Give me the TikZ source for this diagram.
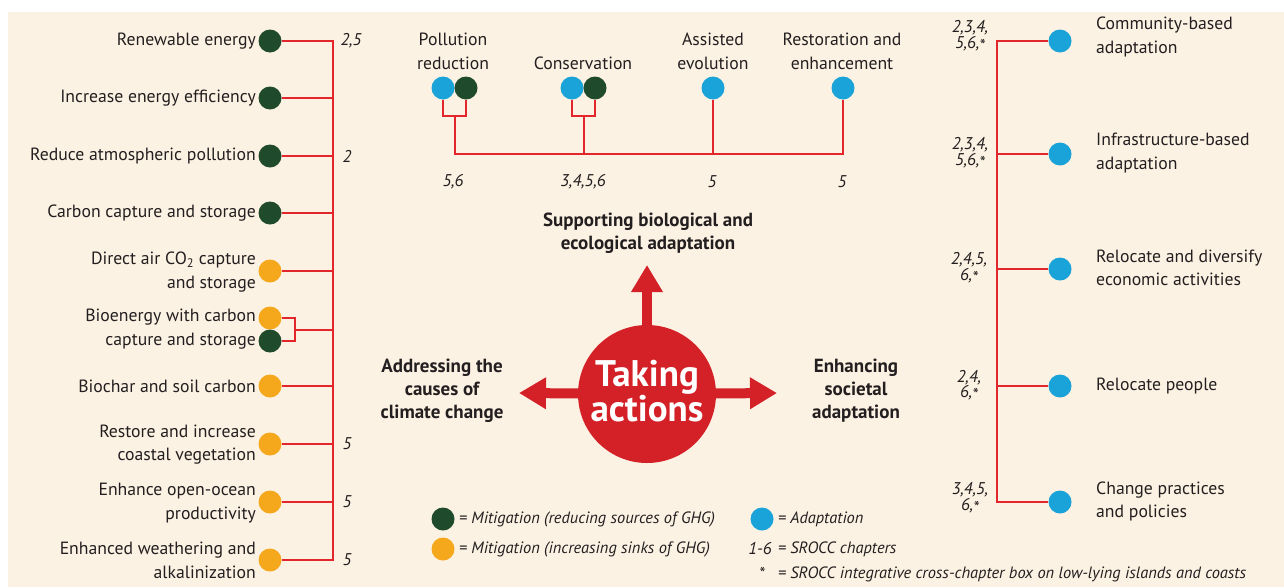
\documentclass[tikz,border=0pt]{standalone}
\usepackage{fontspec}
\setmainfont{PT Sans}
\usetikzlibrary{arrows.meta,backgrounds}
\definecolor{cream}{HTML}{FCF2E3}
\definecolor{dgreen}{HTML}{1F4A2C}
\definecolor{orng}{HTML}{F6A81D}
\definecolor{cyanb}{HTML}{1AA3D8}
\definecolor{lred}{HTML}{E3262B}
\definecolor{bigred}{HTML}{D42128}
\definecolor{ink}{HTML}{231F20}
\newcommand\lowstar{\raisebox{-0.35ex}{*}}
\tikzset{
  dot/.style={circle, minimum size=23pt, inner sep=0pt},
  gdot/.style={dot, fill=dgreen},
  odot/.style={dot, fill=orng},
  bdot/.style={dot, fill=cyanb},
  conn/.style={draw=lred, line width=2pt},
  lab/.style={font=\fontsize{17.7}{23.5}\selectfont, text=ink, inner sep=0pt},
  llab/.style={lab, anchor=east, align=right},
  rlab/.style={lab, anchor=west, align=left},
  clab/.style={lab, align=center},
  blab/.style={font=\fontsize{19}{23}\selectfont\bfseries, text=ink, inner sep=0pt, align=center},
  num/.style={font=\fontsize{17}{15.5}\selectfont\itshape, text=ink, inner sep=0pt, align=center},
  leg/.style={font=\fontsize{16.4}{18}\selectfont\itshape, text=ink, inner sep=0pt, anchor=west},
  bigarrow/.style={draw=bigred, line width=10pt, -{Triangle[width=30pt,length=27pt]}},
}
\begin{document}
\begin{tikzpicture}[x=1pt,y=-1pt]
\useasboundingbox (0,0) rectangle (1284,587);
\begin{scope}[on background layer]
  \fill[white] (0,0) rectangle (1284,587);
  \fill[cream] (8,12) rectangle (1284,587);
\end{scope}

% ---------- left column ----------
\node[gdot] (l1) at (270,41) {};
\node[gdot] (l2) at (270,98) {};
\node[gdot] (l3) at (270,156) {};
\node[gdot] (l4) at (270,213) {};
\node[odot] (l5) at (270,271) {};
\node[odot] (l6a) at (270,318) {};
\node[gdot] (l6b) at (270,341) {};
\node[odot] (l7) at (270,386) {};
\node[odot] (l8) at (270,444) {};
\node[odot] (l9) at (270,502) {};
\node[odot] (l10) at (270,560) {};

\node[llab] (tl1) at (256,41) {Renewable energy};
\node[llab] (tl2) at (256,98) {Increase energy efficiency};
\node[llab] (tl3) at (256,156) {Reduce atmospheric pollution};
\node[llab] (tl4) at (256,213) {Carbon capture and storage};
\node[llab] (tl5) at (256,272) {Direct air CO\textsubscript{2} capture\\and storage};
\node[llab] (tl6) at (256,329) {Bioenergy with carbon\\capture and storage};
\node[llab] (tl7) at (256,386) {Biochar and soil carbon};
\node[llab] (tl8) at (256,444.5) {Restore and increase\\coastal vegetation};
\node[llab] (tl9) at (256,503) {Enhance open-ocean\\productivity};
\node[llab] (tl10) at (256,560.5) {Enhanced weathering and\\alkalinization};

\coordinate (sp) at (333,41);
\coordinate (bk) at (295,329.5);
\draw[conn] (l1) -- (l1 -| sp) -- (l10 -| sp) -- (l10);
\foreach \n in {l2,l3,l4,l5,l7,l8,l9} \draw[conn] (\n) -- (\n -| sp);
\draw[conn] (l6a) -- (l6a -| bk) -- (l6b -| bk) -- (l6b);
\draw[conn] (bk) -- (bk -| sp);

\node[num] (n1) at (351,41) {2,5};
\node[num] (n3) at (347,156) {2};
\node[num] (n8) at (347,444) {5};
\node[num] (n9) at (347,502) {5};
\node[num] (n10) at (347,560) {5};

% ---------- top middle ----------
\node[bdot] (t1a) at (443,88) {};
\node[gdot] (t1b) at (466,88) {};
\node[bdot] (t2a) at (572,88) {};
\node[gdot] (t2b) at (595,88) {};
\node[bdot] (t3) at (713,88) {};
\node[bdot] (t4) at (843,88) {};

\node[clab] (tt1) at (453,51.5) {Pollution\\reduction};
\node[clab] (tt2) at (583,63) {Conservation};
\node[clab] (tt3) at (713,51.5) {Assisted\\evolution};
\node[clab] (tt4) at (842,51.5) {Restoration and\\enhancement};

\coordinate (b1) at (454.5,116);
\coordinate (b2) at (583.5,116);
\coordinate (hb) at (454.5,154);
\draw[conn] (t1a) -- (t1a |- b1) -- (t1b |- b1) -- (t1b);
\draw[conn] (t2a) -- (t2a |- b2) -- (t2b |- b2) -- (t2b);
\draw[conn] (b1) -- (b1 |- hb) -- (t4 |- hb) -- (t4);
\draw[conn] (b2) -- (b2 |- hb);
\draw[conn] (t3) -- (t3 |- hb);

\node[num] (tn1) at (453,182) {5,6};
\node[num] (tn2) at (583,182) {3,4,5,6};
\node[num] (tn3) at (712,182) {5};
\node[num] (tn4) at (842,182) {5};

\node[blab] (sup) at (648,233.5) {Supporting biological and\\ecological adaptation};

% ---------- centre ----------
\node[circle, fill=bigred, minimum size=138pt, inner sep=0pt] (c) at (647,394) {};
\node[font=\fontsize{37}{34}\selectfont\bfseries, text=white, align=center, inner sep=0pt] (ct) at (647,391) {Taking\\actions};
\coordinate (aU) at (647,265);
\coordinate (aL) at (519,393);
\coordinate (aR) at (777,393);
\begin{scope}[on background layer]
  \draw[bigarrow] (c.center) -- (aU);
  \draw[bigarrow] (c.center) -- (aL);
  \draw[bigarrow] (c.center) -- (aR);
\end{scope}

\node[blab] (adl) at (442,391) {Addressing the\\causes of\\climate change};
\node[blab] (adr) at (856,391) {Enhancing\\societal\\adaptation};

% ---------- right column ----------
\node[bdot] (r1) at (1060,41) {};
\node[bdot] (r2) at (1060,154) {};
\node[bdot] (r3) at (1060,269) {};
\node[bdot] (r4) at (1060,386) {};
\node[bdot] (r5) at (1060,502) {};
\coordinate (sp2) at (997,41);
\draw[conn] (r1) -- (r1 -| sp2) -- (r5 -| sp2) -- (r5);
\foreach \n in {r2,r3,r4} \draw[conn] (\n) -- (\n -| sp2);

\node[rlab] (tr1) at (1096,37) {Community-based\\adaptation};
\node[rlab] (tr2) at (1096,153) {Infrastructure-based\\adaptation};
\node[rlab] (tr3) at (1096,268) {Relocate and diversify\\economic activities};
\node[rlab] (tr4) at (1096,386) {Relocate people};
\node[rlab] (tr5) at (1096,501.5) {Change practices\\and policies};

\node[num] (rn1) at (970,36) {2,3,4,\\5,6,\lowstar};
\node[num] (rn2) at (970,153) {2,3,4,\\5,6,\lowstar};
\node[num] (rn3) at (969,268) {2,4,5,\\6,\lowstar};
\node[num] (rn4) at (969,385.5) {2,4,\\6,\lowstar};
\node[num] (rn5) at (970,498) {3,4,5,\\6,\lowstar};

% ---------- legend ----------
\node[gdot] (gL) at (443,519) {};
\node[odot] (oL) at (443,549) {};
\node[bdot] (bL) at (762,519) {};
\node[leg] (lg1) at (459,519) {= Mitigation (reducing sources of GHG)};
\node[leg] (lg2) at (459,549) {= Mitigation (increasing sinks of GHG)};
\node[leg] (lg3) at (778,519) {= Adaptation};
\node[num] (lg4a) at (760,549) {1-6};
\node[leg] (lg4) at (778,549) {= SROCC chapters};
\node[num] (lg5a) at (762,573) {\lowstar};
\node[leg] (lg5) at (778,574) {= SROCC integrative cross-chapter box on low-lying islands and coasts};
\end{tikzpicture}
\end{document}
